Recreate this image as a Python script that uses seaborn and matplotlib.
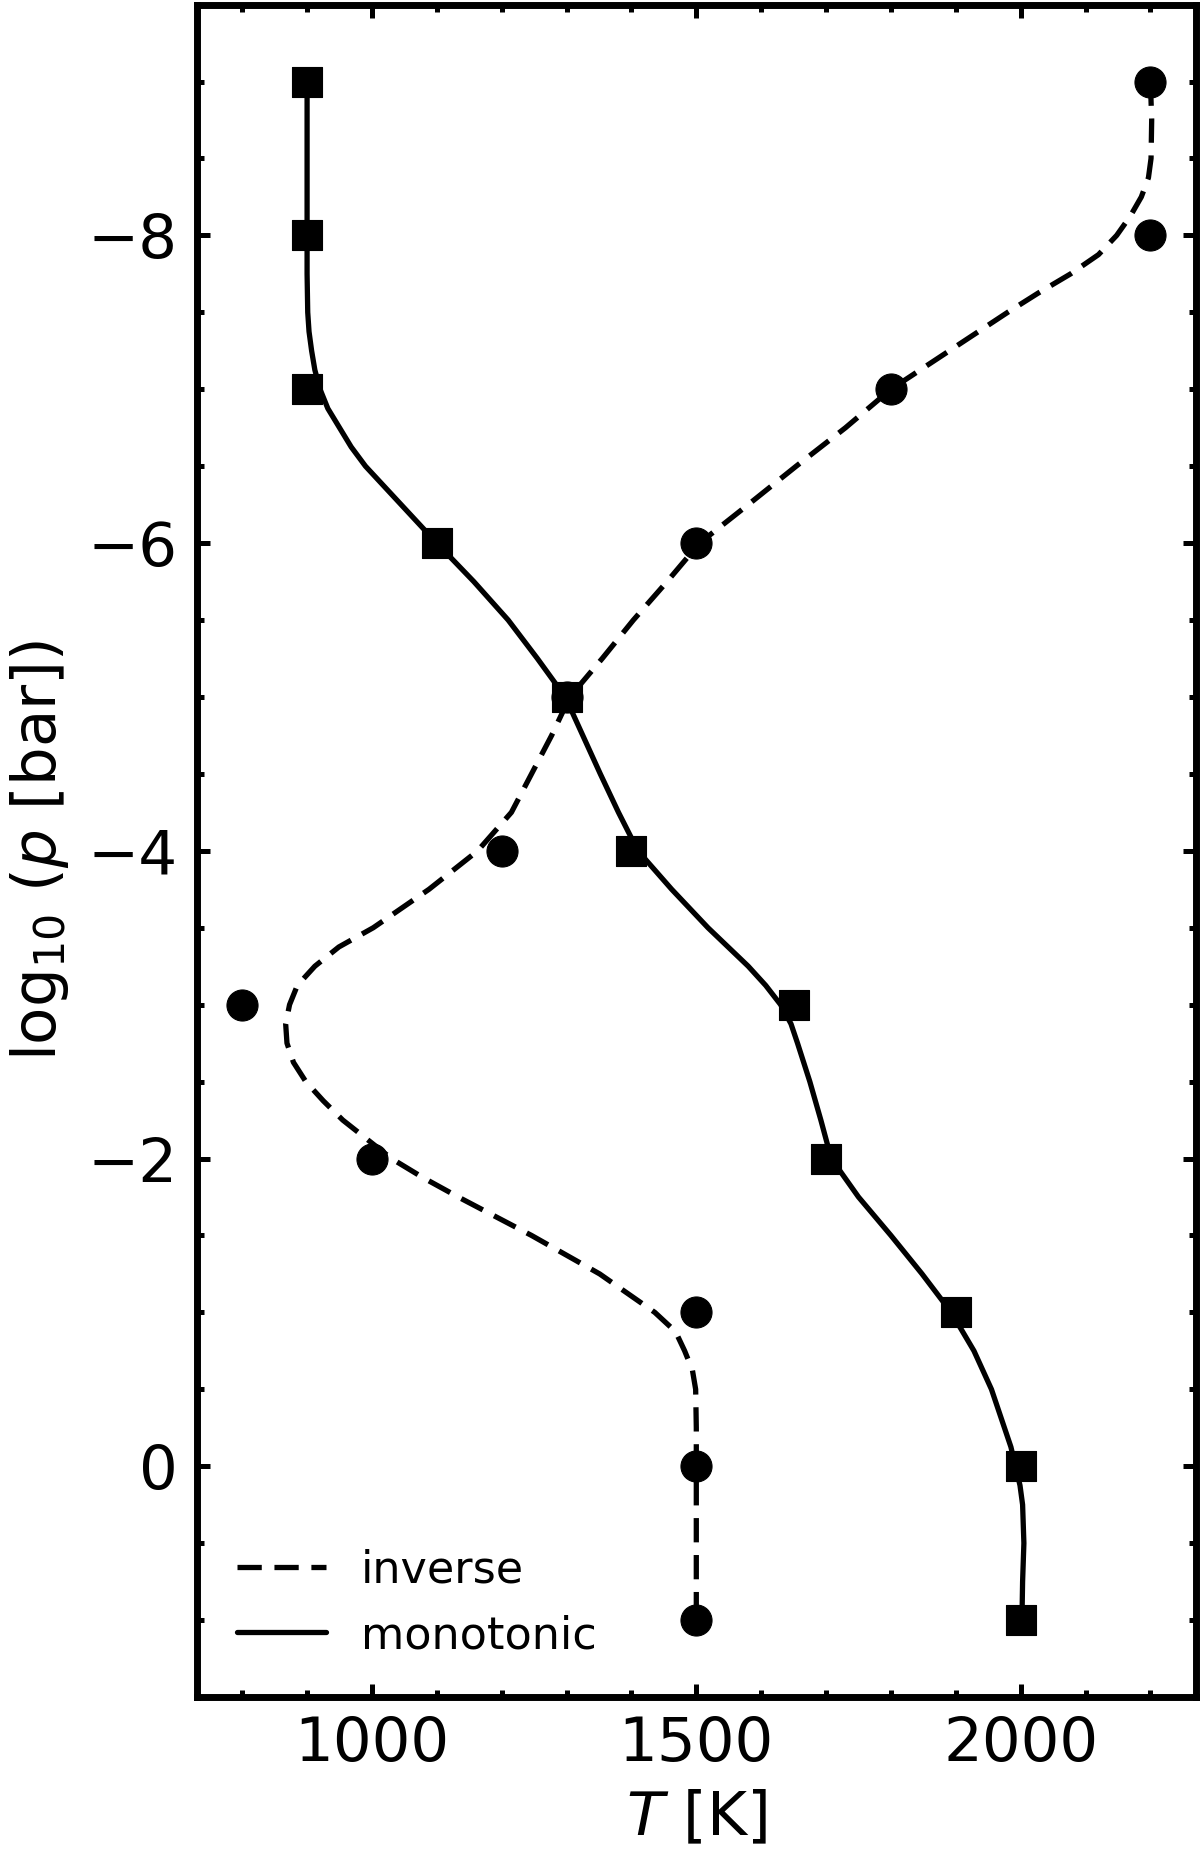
import numpy as np
import pandas as pd
import matplotlib
matplotlib.use("Agg")
import matplotlib.pyplot as plt
from matplotlib.ticker import MultipleLocator
import seaborn as sns

# ---- data ----
# node points (log10 p in bar, temperature in K)
node_logp = [-9, -8, -7, -6, -5, -4, -3, -2, -1, 0, 1]
monotonic_T = [900, 900, 900, 1100, 1300, 1400, 1650, 1700, 1900, 2000, 2000]
inverse_T = [2200, 2200, 1800, 1500, 1300, 1200, 800, 1000, 1500, 1500, 1500]

# smooth fitted profiles
monotonic_curve_logp = [-9.0, -8.75, -8.5, -8.25, -8.0, -7.75, -7.5, -7.375, -7.25,
                        -7.125, -7.0, -6.875, -6.75, -6.625, -6.5, -6.25, -6.0,
                        -5.75, -5.5, -5.25, -5.0, -4.75, -4.5, -4.25, -4.0, -3.75,
                        -3.5, -3.25, -3.125, -3.0, -2.875, -2.75, -2.5, -2.25,
                        -2.0, -1.75, -1.5, -1.25, -1.0, -0.75, -0.5, -0.25,
                        -0.125, 0.0, 0.125, 0.25, 0.5, 0.75, 1.0]
monotonic_curve_T = [900, 900, 900, 900, 900, 900, 901, 903, 907,
                     912, 920, 932, 950, 968, 990, 1045, 1100,
                     1157, 1210, 1255, 1298, 1325, 1352, 1380, 1410, 1462,
                     1518, 1580, 1607, 1630, 1646, 1656, 1675, 1692,
                     1708, 1750, 1800, 1848, 1893, 1928, 1955, 1975,
                     1985, 1992, 1999, 2003, 2005, 2003, 2002]

inverse_curve_logp = [-9.0, -8.75, -8.5, -8.375, -8.25, -8.125, -8.0, -7.875,
                      -7.75, -7.625, -7.5, -7.25, -7.0, -6.75, -6.5, -6.25, -6.0,
                      -5.75, -5.5, -5.25, -5.0, -4.75, -4.5, -4.25, -4.0, -3.75,
                      -3.5, -3.375, -3.25, -3.125, -3.0, -2.875, -2.75, -2.625,
                      -2.5, -2.375, -2.25, -2.0, -1.875, -1.75, -1.5, -1.25,
                      -1.0, -0.875, -0.75, -0.625, -0.5, -0.25, 0.0, 0.25, 0.5,
                      0.75, 1.0]
inverse_curve_T = [2200, 2202, 2201, 2197, 2186, 2169, 2148, 2120,
                   2077, 2027, 1980, 1890, 1800, 1730, 1654, 1580, 1505,
                   1455, 1403, 1355, 1305, 1277, 1246, 1215, 1163, 1088,
                   1002, 949, 912, 885, 873, 867, 869, 879,
                   898, 925, 955, 1030, 1079, 1133, 1246, 1351,
                   1436, 1468, 1482, 1494, 1499, 1500, 1500, 1500, 1500,
                   1500, 1500]

labels = ["inverse", "monotonic"]

curves = pd.DataFrame({
    "T": inverse_curve_T + monotonic_curve_T,
    "logp": inverse_curve_logp + monotonic_curve_logp,
    "profile": [labels[0]] * len(inverse_curve_logp)
               + [labels[1]] * len(monotonic_curve_logp),
})
nodes_inv = pd.DataFrame({"T": inverse_T, "logp": node_logp})
nodes_mon = pd.DataFrame({"T": monotonic_T, "logp": node_logp})

# ---- style ----
sns.set_style("ticks")
plt.rcParams.update({
    "font.family": ["DejaVu Sans"],
    "mathtext.fontset": "dejavusans",
    "xtick.direction": "in",
    "ytick.direction": "in",
    "xtick.top": True,
    "ytick.right": True,
    "xtick.major.size": 4.7,
    "ytick.major.size": 4.7,
    "xtick.minor.size": 2.5,
    "ytick.minor.size": 2.5,
    "xtick.major.width": 1.8,
    "ytick.major.width": 1.8,
    "xtick.minor.width": 1.8,
    "ytick.minor.width": 1.8,
    "xtick.major.pad": 6.5,
    "ytick.major.pad": 7,
    "axes.linewidth": 2.5,
    "axes.edgecolor": "black",
    "xtick.color": "black",
    "ytick.color": "black",
    "text.color": "black",
    "axes.labelcolor": "black",
    "lines.solid_joinstyle": "round",
    "lines.dash_joinstyle": "round",
})

fig = plt.figure(figsize=(6, 9.25), dpi=200)
ax = fig.add_axes([0.164, 0.0827, 0.8325, 0.9148])

sns.lineplot(data=curves, x="T", y="logp", style="profile",
             style_order=labels,
             dashes={"inverse": (4.6, 2.4), "monotonic": ""},
             color="black", lw=1.9, sort=False, estimator=None, ax=ax)

sns.scatterplot(data=nodes_inv, x="T", y="logp", marker="o", s=125,
                color="black", edgecolor="black", linewidth=0.4,
                zorder=3, legend=False, ax=ax)
sns.scatterplot(data=nodes_mon, x="T", y="logp", marker="s", s=110,
                color="black", edgecolor="black", linewidth=0.4,
                zorder=3, legend=False, ax=ax)

ax.set_xlim(730, 2270)
ax.set_ylim(1.5, -9.5)
ax.xaxis.set_major_locator(MultipleLocator(500))
ax.xaxis.set_minor_locator(MultipleLocator(100))
ax.yaxis.set_major_locator(MultipleLocator(2))
ax.yaxis.set_minor_locator(MultipleLocator(0.5))
ax.tick_params(which="both", top=True, right=True, direction="in")
ax.tick_params(axis="both", which="major", labelsize=22)

ax.set_xlabel("$T$ [K]", fontsize=22, labelpad=5.5)
ax.set_ylabel("log$_{10}$ ($p$ [bar])", fontsize=22, labelpad=6)

leg = ax.legend(loc="lower left", frameon=False, fontsize=16,
                handlelength=2.0, handletextpad=0.8)
for h in leg.get_lines():
    h.set_linewidth(1.9)
    h.set_color("black")

fig.savefig("out.png", dpi=200)
